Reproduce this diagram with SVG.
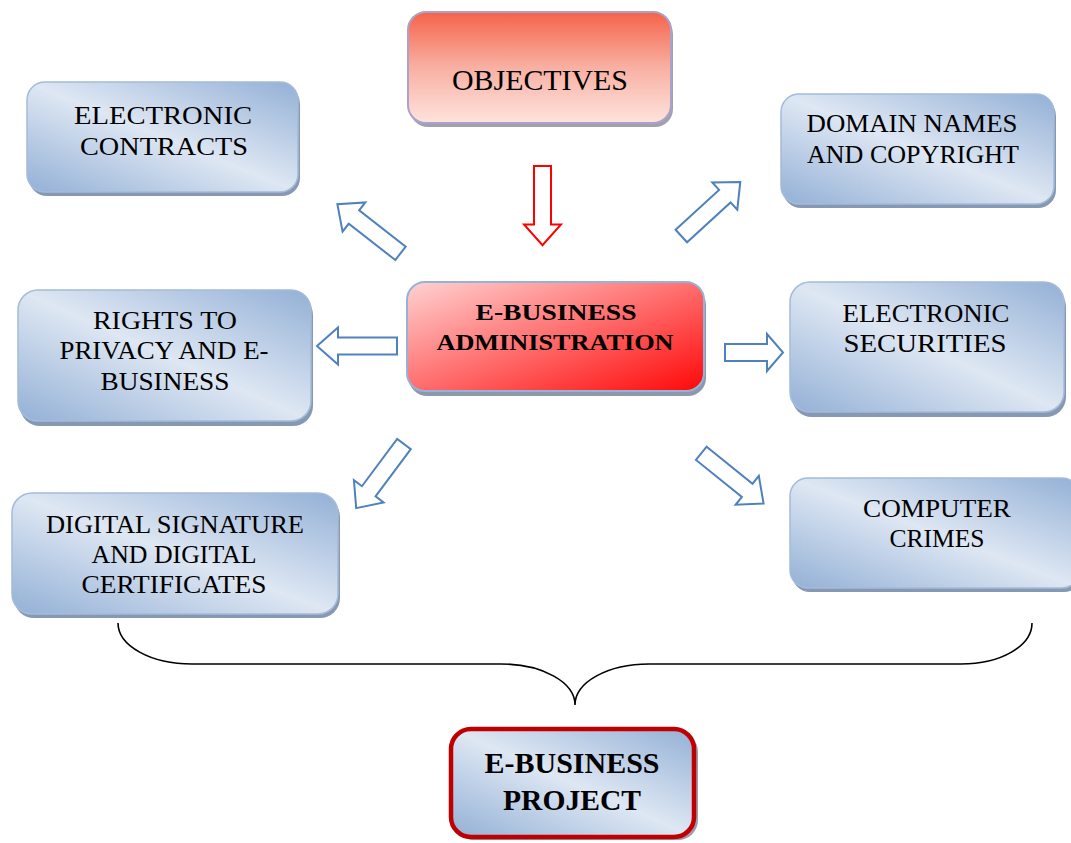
<svg xmlns="http://www.w3.org/2000/svg" width="1071" height="843" viewBox="0 0 1071 843">
  <defs>
    <linearGradient id="blueGrad" x1="1" y1="0" x2="0" y2="1">
      <stop offset="0" stop-color="#93b0d6"/>
      <stop offset="0.5" stop-color="#dee7f3"/>
      <stop offset="1" stop-color="#93b0d6"/>
    </linearGradient>
    <linearGradient id="redGrad" x1="0" y1="0" x2="1" y2="1">
      <stop offset="0" stop-color="#ffd2d2"/>
      <stop offset="1" stop-color="#ff0808"/>
    </linearGradient>
    <linearGradient id="objGrad" x1="0" y1="0" x2="0" y2="1">
      <stop offset="0" stop-color="#f5634a"/>
      <stop offset="0.5" stop-color="#f8b0a2"/>
      <stop offset="1" stop-color="#fee3dd"/>
    </linearGradient>
    <path id="arrow80" d="M0,-8.5 L59,-8.5 L59,-18.5 L80,0 L59,18.5 L59,8.5 L0,8.5 Z"/>
  </defs>
  <style>
    .shadow { fill: #8798b3; }
    .blue { fill: url(#blueGrad); stroke: #a5bbd9; stroke-width: 1.5; }
    .txt { font-family: "Liberation Serif", "Times New Roman", serif; font-size: 25px; fill: #000; text-anchor: middle; }
    .bold { font-weight: bold; }
    .arr { fill: #ffffff; stroke: #4f81bd; stroke-width: 2; stroke-linejoin: miter; }
    .arrRed { fill: #ffffff; stroke: #ff0000; stroke-width: 2; }
    .brace { fill: none; stroke: #000; stroke-width: 1.6; }
  </style>
  <rect width="1071" height="843" fill="#ffffff"/>

  <g id="objectives">
    <rect x="410" y="16" width="263" height="111" rx="18" fill="#a3a0ad"/>
    <rect x="408" y="12" width="263" height="111" rx="18" fill="url(#objGrad)" stroke="#aaa2cc" stroke-width="2"/>
    <text class="txt" x="540" y="90" style="font-size:30px" textLength="176" lengthAdjust="spacingAndGlyphs">OBJECTIVES</text>
  </g>

  <g id="electronic-contracts">
    <rect class="shadow" x="29" y="86" width="271" height="110" rx="18"/>
    <rect class="blue" x="27" y="82" width="271" height="110" rx="18"/>
    <text class="txt" x="163" y="124" textLength="178" lengthAdjust="spacingAndGlyphs">ELECTRONIC</text>
    <text class="txt" x="164" y="155" textLength="168" lengthAdjust="spacingAndGlyphs">CONTRACTS</text>
  </g>

  <g id="domain-names">
    <rect class="shadow" x="783" y="98" width="273" height="110" rx="18"/>
    <rect class="blue" x="781" y="94" width="273" height="110" rx="18"/>
    <text class="txt" x="912" y="132" textLength="211" lengthAdjust="spacingAndGlyphs">DOMAIN NAMES</text>
    <text class="txt" x="913" y="163" textLength="212" lengthAdjust="spacingAndGlyphs">AND COPYRIGHT</text>
  </g>

  <g id="rights-privacy">
    <rect class="shadow" x="20" y="295" width="293" height="131" rx="20"/>
    <rect class="blue" x="18" y="290" width="293" height="131" rx="20"/>
    <text class="txt" x="165" y="329" textLength="144" lengthAdjust="spacingAndGlyphs">RIGHTS TO</text>
    <text class="txt" x="164" y="359" textLength="209" lengthAdjust="spacingAndGlyphs">PRIVACY AND E-</text>
    <text class="txt" x="165" y="390" textLength="129" lengthAdjust="spacingAndGlyphs">BUSINESS</text>
  </g>

  <g id="e-business-administration">
    <rect x="409" y="287" width="297" height="109" rx="18" fill="#8e98ac"/>
    <rect x="407" y="282" width="297" height="109" rx="18" fill="url(#redGrad)" stroke="#96b2d8" stroke-width="2"/>
    <text class="txt bold" x="556" y="320" style="font-size:24px" textLength="161" lengthAdjust="spacingAndGlyphs">E-BUSINESS</text>
    <text class="txt bold" x="555" y="350" style="font-size:24px" textLength="237" lengthAdjust="spacingAndGlyphs">ADMINISTRATION</text>
  </g>

  <g id="electronic-securities">
    <rect class="shadow" x="792" y="287" width="274" height="130" rx="20"/>
    <rect class="blue" x="790" y="282" width="274" height="130" rx="20"/>
    <text class="txt" x="926" y="322" textLength="167" lengthAdjust="spacingAndGlyphs">ELECTRONIC</text>
    <text class="txt" x="925" y="352" textLength="163" lengthAdjust="spacingAndGlyphs">SECURITIES</text>
  </g>

  <g id="digital-signature">
    <rect class="shadow" x="14" y="497" width="326" height="121" rx="20"/>
    <rect class="blue" x="12" y="493" width="326" height="121" rx="20"/>
    <text class="txt" x="175" y="533" textLength="258" lengthAdjust="spacingAndGlyphs">DIGITAL SIGNATURE</text>
    <text class="txt" x="174" y="563" textLength="165" lengthAdjust="spacingAndGlyphs">AND DIGITAL</text>
    <text class="txt" x="174" y="593" textLength="185" lengthAdjust="spacingAndGlyphs">CERTIFICATES</text>
  </g>

  <g id="computer-crimes">
    <rect class="shadow" x="792" y="482" width="290" height="110" rx="18"/>
    <rect class="blue" x="790" y="478" width="290" height="110" rx="18"/>
    <text class="txt" x="937" y="517" textLength="148" lengthAdjust="spacingAndGlyphs">COMPUTER</text>
    <text class="txt" x="937" y="547" textLength="95" lengthAdjust="spacingAndGlyphs">CRIMES</text>
  </g>

  <g id="e-business-project">
    <rect x="454" y="732" width="244" height="108" rx="20" fill="#9a9ea8"/>
    <rect x="451" y="729" width="243" height="108" rx="20" fill="url(#blueGrad)" stroke="#c00000" stroke-width="4.5"/>
    <text class="txt bold" x="572" y="773" style="font-size:30px" textLength="175" lengthAdjust="spacingAndGlyphs">E-BUSINESS</text>
    <text class="txt bold" x="572" y="810" style="font-size:30px" textLength="138" lengthAdjust="spacingAndGlyphs">PROJECT</text>
  </g>

  <g id="connectors">
    <use href="#arrow80" class="arrRed" transform="translate(542.5,166) rotate(90) scale(0.99,1)"/>
    <use href="#arrow80" class="arr" transform="translate(400.5,253.3) rotate(-142.1)"/>
    <use href="#arrow80" class="arr" transform="translate(397,346) rotate(180)"/>
    <path class="arr" d="M725,344 L767,344 L767,334 L783,352.5 L767,371 L767,361 L725,361 Z"/>
    <use href="#arrow80" class="arr" transform="translate(681.3,236) rotate(-42.5)"/>
    <use href="#arrow80" class="arr" transform="translate(701.3,453.3) rotate(38.9)"/>
    <use href="#arrow80" class="arr" transform="translate(404,444) rotate(126.7)"/>
    <path class="brace" d="M118,623 C118,646 151,664 192,664 L501,664 C542,664 575,682 575,705 C575,682 608,664 649,664 L961,664 C1001,664 1032,646 1032,623"/>
  </g>
</svg>
